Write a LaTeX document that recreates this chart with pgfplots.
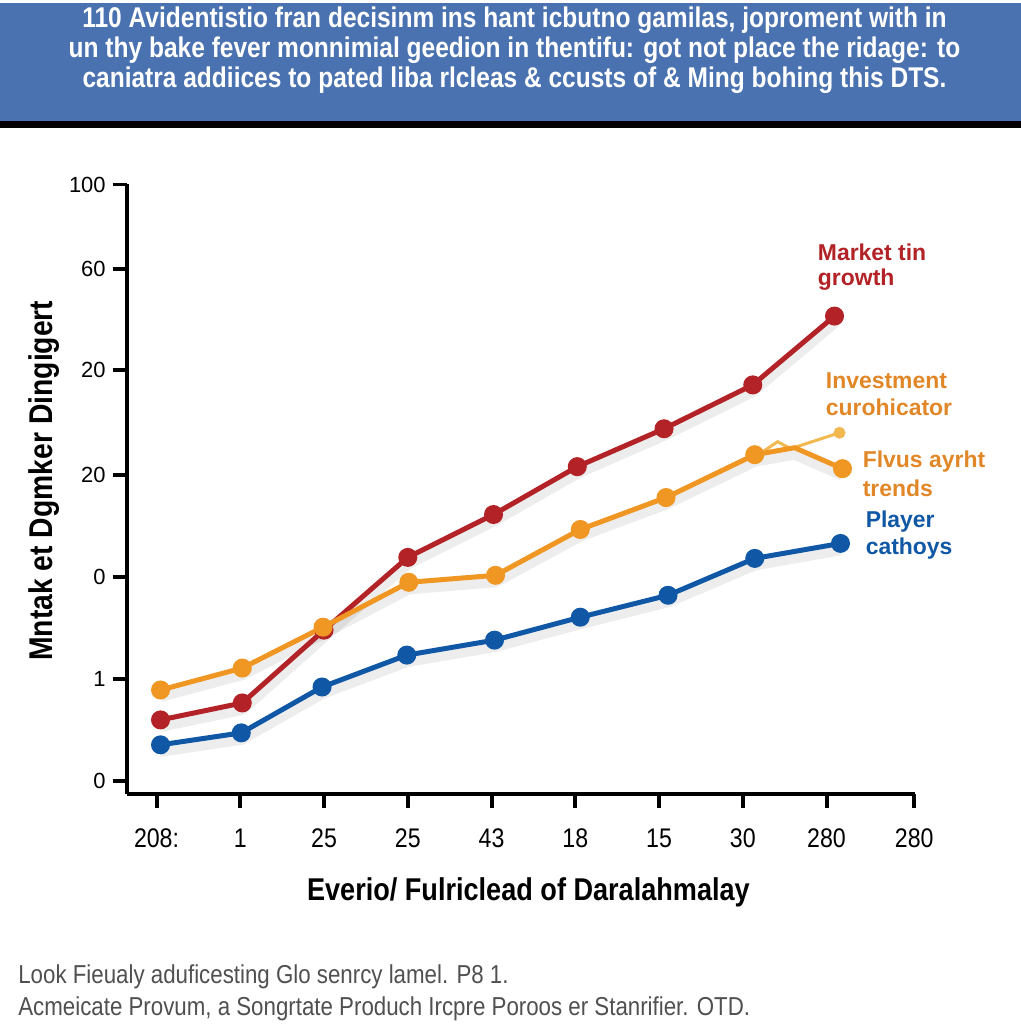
\documentclass[border=0pt]{standalone}
\usepackage{fontspec}
\setmainfont{Liberation Sans}
\newfontfamily\cond{Liberation Sans}[FakeStretch=0.86]
\usepackage{pgfplots}
\pgfplotsset{compat=1.18}
\definecolor{cred}{RGB}{178,34,38}
\definecolor{corange}{RGB}{240,150,35}
\definecolor{clight}{RGB}{242,185,80}
\definecolor{cblue}{RGB}{16,88,165}
\definecolor{cbanner}{RGB}{74,114,176}
\definecolor{clabelor}{RGB}{226,135,40}
\definecolor{cgray}{RGB}{80,80,80}
\begin{document}
\begin{tikzpicture}
\fill[white] (0,0) rectangle (512pt,512pt);
\fill[cbanner] (0,453pt) rectangle (512pt,512pt);
\fill[black] (0,449.5pt) rectangle (512pt,453pt);
\node[text=white, font=\cond\bfseries\fontsize{14.3}{15}\selectfont, align=center] at (258pt,488.5pt)
 {110 Avidentistio fran decisinm ins hant icbutno gamilas, joproment with in\\
  un thy bake fever monnimial geedion in thentifu: got not place the ridage: to\\
  caniatra addiices to pated liba rlcleas \& ccusts of \& Ming bohing this DTS.};
\begin{axis}[
  at={(63.5pt,115.5pt)}, anchor=south west,
  scale only axis, width=395.5pt, height=305.5pt,
  xmin=127, xmax=918, ymin=231, ymax=842,
  axis x line*=bottom, axis y line*=left,
  axis line style={line width=2pt,-},
  tick align=outside, major tick length=7pt,
  tick style={black, line width=2pt},
  xtick={157,241,325,409,493,577,661,745,829,917},
  xticklabels={208:,1,25,25,43,18,15,30,280,280},
  ytick={842,757,656,551,448,346,244},
  yticklabels={100,60,20,20,0,1,0},
  xticklabel style={font=\cond\fontsize{13.5}{13.5}\selectfont, yshift=-7pt},
  yticklabel style={font=\fontsize{11}{11}\selectfont},
  clip=false,
]
% soft shadows
\addplot[black, opacity=0.07, line width=6pt, yshift=-3pt] coordinates {
 (161,305) (243,322) (325,395) (409,468) (495,511) (579,559) (666,597) (755,641) (837,710)};
\addplot[black, opacity=0.07, line width=6pt, yshift=-3pt] coordinates {
 (161,335) (243,357) (324,398) (410,443) (497,450) (582,496) (668,528) (757,571) (797,578) (845,557)};
\addplot[black, opacity=0.07, line width=6pt, yshift=-3pt] coordinates {
 (161,280) (242,292) (323,338) (408,370) (496,385) (582,408) (670,430) (757,467) (843,482)};
\addplot[cred, line width=2.5pt, mark=*, mark size=3.5pt] coordinates {
 (161,305) (243,322) (325,395) (409,468) (495,511) (579,559) (666,597) (755,641) (837,710)};
\addplot[clight, line width=1.5pt, mark=*, mark size=2.2pt, mark indices={4}] coordinates {
 (762,572) (780,584) (793,577) (842,593)};
\addplot[corange, line width=2.5pt, mark=*, mark size=3.5pt, mark indices={1,2,3,4,5,6,7,8,10}] coordinates {
 (161,335) (243,357) (324,398) (410,443) (497,450) (582,496) (668,528) (757,571) (797,578) (845,557)};
\addplot[cblue, line width=2.5pt, mark=*, mark size=3.5pt] coordinates {
 (161,280) (242,292) (323,338) (408,370) (496,385) (582,408) (670,430) (757,467) (843,482)};
\end{axis}
\node[font=\cond\bfseries\fontsize{15.8}{15.8}\selectfont] at (265pt,66pt) {Everio/ Fulriclead of Daralahmalay};
\node[font=\cond\bfseries\fontsize{16.5}{16.5}\selectfont, rotate=90] at (22pt,272.5pt) {Mntak et Dgmker Dingigert};
\begin{scope}[font=\bfseries\fontsize{11.5}{11.5}\selectfont]
\node[text=cred, anchor=west, inner sep=0pt] at (410pt,387pt) {Market tin};
\node[text=cred, anchor=west, inner sep=0pt] at (410pt,373.5pt) {growth};
\node[text=clabelor, anchor=west, inner sep=0pt] at (414pt,322.5pt) {Investment};
\node[text=clabelor, anchor=west, inner sep=0pt] at (414pt,309.5pt) {curohicator};
\node[text=clabelor, anchor=west, inner sep=0pt] at (432.5pt,282pt) {Flvus ayrht};
\node[text=clabelor, anchor=west, inner sep=0pt] at (432.5pt,268.5pt) {trends};
\node[text=cblue, anchor=west, inner sep=0pt] at (434pt,252pt) {Player};
\node[text=cblue, anchor=west, inner sep=0pt] at (434pt,238.5pt) {cathoys};
\end{scope}
\begin{scope}[font=\cond\fontsize{13}{13}\selectfont, text=cgray]
\node[anchor=west, inner sep=0pt] at (9pt,23.5pt) {Look Fieualy aduficesting Glo senrcy lamel. P8 1.};
\node[anchor=west, inner sep=0pt] at (9pt,7.5pt) {Acmeicate Provum, a Songrtate Produch Ircpre Poroos er Stanrifier. OTD.};
\end{scope}
\end{tikzpicture}
\end{document}
